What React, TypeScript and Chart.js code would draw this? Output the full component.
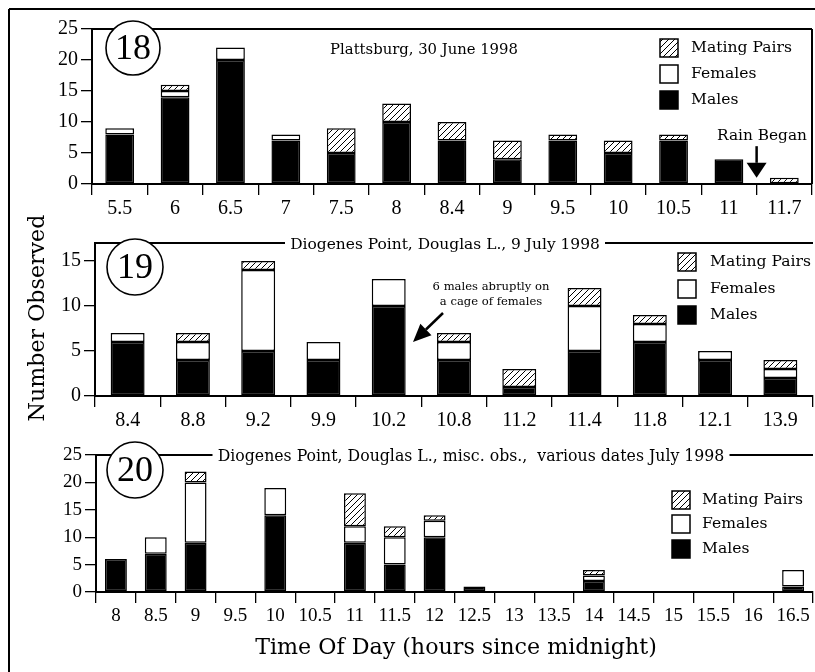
import React, { useEffect, useRef } from 'react';
import { Chart, registerables } from 'chart.js';
Chart.register(...registerables);

// ---- data ----
const cats18 = ['5.5', '6', '6.5', '7', '7.5', '8', '8.4', '9', '9.5', '10', '10.5', '11', '11.7'];
const males18 = [8, 14, 20, 7, 5, 10, 7, 4, 7, 5, 7, 4, 0];
const females18 = [1, 1, 2, 1, 0, 0, 0, 0, 0, 0, 0, 0, 0];
const pairs18 = [0, 1, 0, 0, 4, 3, 3, 3, 1, 2, 1, 0, 1];

const cats19 = ['8.4', '8.8', '9.2', '9.9', '10.2', '10.8', '11.2', '11.4', '11.8', '12.1', '13.9'];
const males19 = [6, 4, 5, 4, 10, 4, 1, 5, 6, 4, 2];
const females19 = [1, 2, 9, 2, 3, 2, 0, 5, 2, 1, 1];
const pairs19 = [0, 1, 1, 0, 0, 1, 2, 2, 1, 0, 1];

const cats20 = ['8', '8.5', '9', '9.5', '10', '10.5', '11', '11.5', '12', '12.5', '13', '13.5', '14', '14.5', '15', '15.5', '16', '16.5'];
const males20 = [6, 7, 9, 0, 14, 0, 9, 5, 10, 1, 0, 0, 2, 0, 0, 0, 0, 1];
const females20 = [0, 3, 11, 0, 5, 0, 3, 5, 3, 0, 0, 0, 1, 0, 0, 0, 0, 3];
const pairs20 = [0, 0, 2, 0, 0, 0, 6, 2, 1, 0, 0, 0, 1, 0, 0, 0, 0, 0];

const ticks25 = [0, 5, 10, 15, 20, 25];
const ticks17 = [0, 5, 10, 15];

const TXT = '"DejaVu Serif", serif';
const NUM = '"Liberation Serif", serif';

function makeHatch(): CanvasPattern | string {
  const c = document.createElement('canvas');
  c.width = 6; c.height = 6;
  const g = c.getContext('2d');
  if (!g) return '#888';
  g.fillStyle = '#fff'; g.fillRect(0, 0, 6, 6);
  g.strokeStyle = '#000'; g.lineWidth = 1;
  g.beginPath();
  g.moveTo(0, 6); g.lineTo(6, 0);
  g.moveTo(-1, 1); g.lineTo(1, -1);
  g.moveTo(5, 7); g.lineTo(7, 5);
  g.stroke();
  return g.createPattern(c, 'repeat') || '#888';
}

function line(ctx: CanvasRenderingContext2D, x1: number, y1: number, x2: number, y2: number, w = 2) {
  ctx.lineWidth = w; ctx.strokeStyle = '#000';
  ctx.beginPath(); ctx.moveTo(x1, y1); ctx.lineTo(x2, y2); ctx.stroke();
}

function fitSize(ctx: CanvasRenderingContext2D, text: string, width: number, family: string) {
  ctx.font = `100px ${family}`;
  return (100 * width) / ctx.measureText(text).width;
}

function fitText(ctx: CanvasRenderingContext2D, text: string, cx: number, cy: number, width: number, family = TXT, rot = 0) {
  const s = fitSize(ctx, text, width, family);
  ctx.save();
  ctx.translate(cx, cy);
  ctx.rotate(rot);
  ctx.font = `${s}px ${family}`;
  ctx.fillStyle = '#000'; ctx.textAlign = 'center'; ctx.textBaseline = 'middle';
  ctx.fillText(text, 0, 0);
  ctx.restore();
  return s;
}

function circleNum(ctx: CanvasRenderingContext2D, cx: number, cy: number, r: number, t: string) {
  ctx.save();
  ctx.beginPath(); ctx.arc(cx, cy, r, 0, Math.PI * 2);
  ctx.fillStyle = '#fff'; ctx.fill();
  ctx.lineWidth = 1.6; ctx.strokeStyle = '#000'; ctx.stroke();
  ctx.font = `36px ${NUM}`; ctx.fillStyle = '#000'; ctx.textAlign = 'center'; ctx.textBaseline = 'middle';
  ctx.fillText(t, cx, cy + 2);
  ctx.restore();
}

function legend(ctx: CanvasRenderingContext2D, bx: number, rows: number[], tx: number, hatch: any) {
  const items = [
    { label: 'Mating Pairs', fill: hatch },
    { label: 'Females', fill: '#fff' },
    { label: 'Males', fill: '#000' },
  ];
  const s = fitSize(ctx, 'Mating Pairs', 101, TXT);
  ctx.save();
  items.forEach((it, i) => {
    const y = rows[i];
    ctx.fillStyle = it.fill; ctx.fillRect(bx, y - 9, 18, 18);
    ctx.lineWidth = 1.5; ctx.strokeStyle = '#000'; ctx.strokeRect(bx, y - 9, 18, 18);
    ctx.font = `${s}px ${TXT}`; ctx.fillStyle = '#000'; ctx.textAlign = 'left'; ctx.textBaseline = 'middle';
    ctx.fillText(it.label, tx, y);
  });
  ctx.restore();
}

function arrow(ctx: CanvasRenderingContext2D, x1: number, y1: number, x2: number, y2: number, hl: number, hw: number) {
  const a = Math.atan2(y2 - y1, x2 - x1);
  const bx = x2 - hl * Math.cos(a), by = y2 - hl * Math.sin(a);
  line(ctx, x1, y1, bx, by, 2.5);
  ctx.save();
  ctx.fillStyle = '#000';
  ctx.beginPath();
  ctx.moveTo(x2, y2);
  ctx.lineTo(bx + (hw / 2) * Math.sin(a), by - (hw / 2) * Math.cos(a));
  ctx.lineTo(bx - (hw / 2) * Math.sin(a), by + (hw / 2) * Math.cos(a));
  ctx.closePath(); ctx.fill();
  ctx.restore();
}

function titleOnLine(ctx: CanvasRenderingContext2D, chart: any, text: string, cx: number, width: number) {
  const { left, right, top } = chart.chartArea;
  line(ctx, left, top, cx - width / 2 - 5, top);
  line(ctx, cx + width / 2 + 5, top, right, top);
  fitText(ctx, text, cx, top + 2, width);
}

type Panel = {
  cats: string[]; males: number[]; females: number[]; pairs: number[];
  yMax: number; yTicks: number[]; yWidth: number; xHeight: number;
  pad: { top: number; right: number; bottom: number; left: number };
  barPct: number; tickSize: number;
  decorate: (chart: any, ctx: CanvasRenderingContext2D, hatch: any) => void;
};

function build(canvas: HTMLCanvasElement, p: Panel) {
  const hatch = makeHatch();
  const bw = 1.5;
  return new Chart(canvas, {
    type: 'bar',
    data: {
      labels: p.cats,
      datasets: [
        { label: 'Males', data: p.males, backgroundColor: '#000', borderColor: '#000', borderWidth: bw, borderSkipped: false },
        { label: 'Females', data: p.females, backgroundColor: '#fff', borderColor: '#000', borderWidth: bw, borderSkipped: false },
        { label: 'Mating Pairs', data: p.pairs, backgroundColor: hatch as any, borderColor: '#000', borderWidth: bw, borderSkipped: false },
      ],
    },
    options: {
      animation: false,
      responsive: false,
      maintainAspectRatio: false,
      layout: { padding: p.pad },
      datasets: { bar: { categoryPercentage: 1, barPercentage: p.barPct } },
      plugins: { legend: { display: false }, tooltip: { enabled: false }, title: { display: false } },
      scales: {
        x: {
          stacked: true,
          offset: true,
          grid: { offset: true, drawOnChartArea: false, drawTicks: true, tickLength: 11, color: '#000', lineWidth: 1.3 },
          border: { display: true, color: '#000', width: 2 },
          ticks: { color: '#000', font: { family: NUM, size: p.tickSize }, padding: 2, autoSkip: false, maxRotation: 0, minRotation: 0 },
          afterFit: (s: any) => { s.height = p.xHeight; },
        },
        y: {
          stacked: true,
          min: 0,
          max: p.yMax,
          grid: { drawOnChartArea: false, drawTicks: true, tickLength: 11, color: '#000', lineWidth: 1.3 },
          border: { display: true, color: '#000', width: 2 },
          ticks: { color: '#000', font: { family: NUM, size: p.tickSize }, padding: 3 },
          afterBuildTicks: (s: any) => { s.ticks = p.yTicks.map((v) => ({ value: v })); },
          afterFit: (s: any) => { s.width = p.yWidth; },
        },
      },
    } as any,
    plugins: [
      {
        id: 'deco',
        afterDraw(chart: any) {
          const ctx = chart.ctx as CanvasRenderingContext2D;
          ctx.save();
          p.decorate(chart, ctx, hatch);
          ctx.restore();
        },
      },
    ],
  });
}

const panel18: Panel = {
  cats: cats18, males: males18, females: females18, pairs: pairs18,
  yMax: 25, yTicks: ticks25, yWidth: 92, xHeight: 41,
  pad: { top: 29, right: 3, bottom: 0, left: 0 },
  barPct: 0.52, tickSize: 20,
  decorate(chart, ctx, hatch) {
    const { left, right, top, bottom } = chart.chartArea;
    line(ctx, 9, 9, 815, 9);
    line(ctx, 9, 9, 9, chart.height);
    line(ctx, left, top, right, top);
    line(ctx, right, top, right, bottom);
    circleNum(ctx, 133, 48, 27, '18');
    fitText(ctx, 'Plattsburg, 30 June 1998', 424, 50, 188);
    legend(ctx, 660, [48, 74, 100], 691, hatch);
    const xs = chart.scales.x, ys = chart.scales.y;
    const ax = xs.getPixelForValue(11.5);
    fitText(ctx, 'Rain Began', 762, 136, 90);
    arrow(ctx, ax, ys.getPixelForValue(6.1), ax, ys.getPixelForValue(1), 15, 20);
  },
};

const panel19: Panel = {
  cats: cats19, males: males19, females: females19, pairs: pairs19,
  yMax: 17, yTicks: ticks17, yWidth: 95, xHeight: 44,
  pad: { top: 43, right: 2, bottom: 0, left: 0 },
  barPct: 0.52, tickSize: 20,
  decorate(chart, ctx, hatch) {
    line(ctx, 9, 0, 9, chart.height);
    titleOnLine(ctx, chart, 'Diogenes Point, Douglas L., 9 July 1998', 445, 310);
    circleNum(ctx, 135, 67, 28, '19');
    legend(ctx, 678, [62, 89, 115], 710, hatch);
    const s = fitText(ctx, '6 males abruptly on', 491, 87, 117);
    ctx.font = `${s}px ${TXT}`; ctx.fillStyle = '#000'; ctx.textAlign = 'center'; ctx.textBaseline = 'middle';
    ctx.fillText('a cage of females', 491, 102);
    arrow(ctx, 443, 113, 413, 142, 18, 16);
    fitText(ctx, 'Number Observed', 38, 118, 207, TXT, -Math.PI / 2);
  },
};

const panel20: Panel = {
  cats: cats20, males: males20, females: females20, pairs: pairs20,
  yMax: 25, yTicks: ticks25, yWidth: 96, xHeight: 80,
  pad: { top: 35, right: 2, bottom: 0, left: 0 },
  barPct: 0.55, tickSize: 19,
  decorate(chart, ctx, hatch) {
    line(ctx, 9, 0, 9, chart.height);
    titleOnLine(ctx, chart, 'Diogenes Point, Douglas L., misc. obs.,  various dates July 1998', 471, 507);
    circleNum(ctx, 135, 50, 28, '20');
    legend(ctx, 672, [80, 104, 129], 702, hatch);
    fitText(ctx, 'Time Of Day (hours since midnight)', 456, 228, 402);
  },
};

function PanelCanvas({ panel, top, height }: { panel: Panel; top: number; height: number }) {
  const ref = useRef<HTMLCanvasElement | null>(null);
  useEffect(() => {
    if (!ref.current) return;
    const ch = build(ref.current, panel);
    return () => ch.destroy();
  }, [panel]);
  return (
    <canvas
      ref={ref}
      width={815}
      height={height}
      style={{ position: 'absolute', left: 0, top, width: 815, height }}
    />
  );
}

export default function App() {
  return (
    <div style={{ position: 'absolute', left: 0, top: 0, width: 815, height: 672, background: '#fff', overflow: 'hidden' }}>
      <PanelCanvas panel={panel18} top={0} height={225} />
      <PanelCanvas panel={panel19} top={200} height={240} />
      <PanelCanvas panel={panel20} top={420} height={252} />
    </div>
  );
}
